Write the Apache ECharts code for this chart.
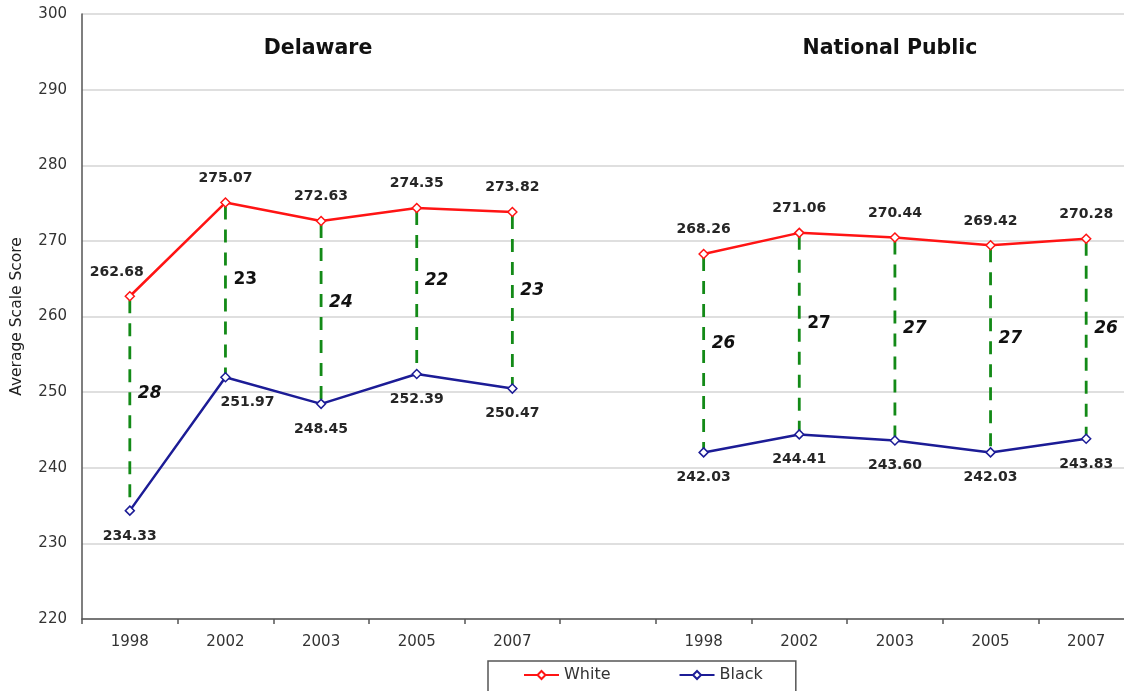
<!DOCTYPE html>
<html>
<head>
<meta charset="utf-8">
<title>Average Scale Score by Race</title>
<script src="https://cdn.jsdelivr.net/npm/echarts@6/dist/echarts.min.js"></script>
<style>
  html, body { margin: 0; padding: 0; background: #fff; }
  #chart { width: 1124px; height: 691px; }
</style>
</head>
<body>
<div id="chart"></div>
<script>
// Years on the axis: Delaware block, an empty spacer slot, then National Public block
const categories = ['1998', '2002', '2003', '2005', '2007', '', '1998', '2002', '2003', '2005', '2007'];

// Average scale scores (null = spacer slot, keeps the two blocks unconnected)
const whiteScores = [262.68, 275.07, 272.63, 274.35, 273.82, null, 268.26, 271.06, 270.44, 269.42, 270.28];
const blackScores = [234.33, 251.97, 248.45, 252.39, 250.47, null, 242.03, 244.41, 243.60, 242.03, 243.83];

// White–Black score gap printed beside each connector
const gapLabels = [28, 23, 24, 22, 23, null, 26, 27, 27, 27, 26];

// Value axis ticks
const yTicks = [220, 230, 240, 250, 260, 270, 280, 290, 300];

// Panel headings
const panelTitles = ['Delaware', 'National Public'];

const FONT = "'DejaVu Sans', sans-serif";
const UPRIGHT_GAP_YEAR = '2002';

const gapData = [];
categories.forEach((c, i) => {
  if (whiteScores[i] != null && blackScores[i] != null) {
    gapData.push([i, whiteScores[i], blackScores[i], gapLabels[i]]);
  }
});

// Nudge labels that would otherwise sit on top of a steep segment
function withLabelNudge(values, nudges) {
  return values.map((v, i) => {
    if (v == null || !nudges[i]) return v;
    return { value: v, label: { offset: nudges[i] } };
  });
}
const whiteData = withLabelNudge(whiteScores, { 0: [-13, 0] });
const blackData = withLabelNudge(blackScores, { 1: [22, 0] });

const chart = echarts.init(document.getElementById('chart'), null, { renderer: 'canvas' });

const option = {
  backgroundColor: '#ffffff',
  animation: false,
  textStyle: { fontFamily: FONT },
  // the plot runs a little past the right edge of the canvas
  grid: { left: 82, top: 14, width: 1052, bottom: 72, containLabel: false, outerBoundsMode: 'none' },
  graphic: [
    {
      type: 'text', x: 318, y: 49,
      style: { text: panelTitles[0], font: "bold 20.5px 'DejaVu Sans', sans-serif", fill: '#111', textAlign: 'center', textVerticalAlign: 'middle' }
    },
    {
      type: 'text', x: 890, y: 49,
      style: { text: panelTitles[1], font: "bold 20.5px 'DejaVu Sans', sans-serif", fill: '#111', textAlign: 'center', textVerticalAlign: 'middle' }
    }
  ],
  legend: {
    left: 488, top: 661,
    data: ['White', 'Black'],
    itemWidth: 35, itemHeight: 10, itemGap: 68,
    padding: [6, 33, 12, 35],
    borderColor: '#555', borderWidth: 1.5,
    backgroundColor: '#fff',
    textStyle: { fontFamily: FONT, fontSize: 16, color: '#333' }
  },
  xAxis: {
    type: 'category',
    data: categories,
    boundaryGap: true,
    axisLine: { lineStyle: { color: '#555', width: 1.5 } },
    axisTick: { show: true, interval: 0, length: 5, lineStyle: { color: '#555', width: 1.5 } },
    axisLabel: { interval: 0, margin: 16, fontFamily: FONT, fontSize: 15, color: '#333' },
    splitLine: { show: false }
  },
  yAxis: {
    type: 'value',
    min: yTicks[0], max: yTicks[yTicks.length - 1], interval: 10,
    name: 'Average Scale Score',
    nameLocation: 'middle', nameRotate: 90, nameGap: 57,
    nameTextStyle: { fontFamily: FONT, fontSize: 15.5, color: '#222' },
    axisLine: { show: true, lineStyle: { color: '#555', width: 1.5 } },
    axisTick: { show: false },
    axisLabel: { margin: 15, fontFamily: FONT, fontSize: 15, color: '#333' },
    splitLine: { lineStyle: { color: '#d4d4d4', width: 1.5 } }
  },
  series: [
    {
      name: 'Gap',
      type: 'custom',
      z: 1,
      silent: true,
      data: gapData,
      encode: { x: 0, y: [1, 2] },
      renderItem: function (params, api) {
        const idx = api.value(0);
        const top = api.coord([idx, api.value(1)]);
        const bot = api.coord([idx, api.value(2)]);
        const midY = (top[1] + bot[1]) / 2 - 10;
        const upright = categories[idx] === UPRIGHT_GAP_YEAR;
        return {
          type: 'group',
          children: [
            {
              type: 'line',
              shape: { x1: top[0], y1: top[1] + 4, x2: bot[0], y2: bot[1] - 4 },
              style: { stroke: '#138a17', lineWidth: 2.8, lineDash: [13, 10] }
            },
            {
              type: 'text',
              x: top[0] + 8, y: midY,
              style: {
                text: String(api.value(3)),
                font: (upright ? '' : 'italic ') + "bold 17px 'DejaVu Sans', sans-serif",
                fill: '#111', textAlign: 'left', textVerticalAlign: 'middle'
              }
            }
          ]
        };
      }
    },
    {
      name: 'White',
      type: 'line',
      z: 3,
      data: whiteData,
      connectNulls: false,
      symbol: 'diamond', symbolSize: 9,
      itemStyle: { color: '#ffffff', borderColor: '#ff1414', borderWidth: 1.5 },
      lineStyle: { color: '#ff1414', width: 2.5 },
      label: {
        show: true, position: 'top', distance: 12,
        fontFamily: FONT, fontSize: 14, fontWeight: 'bold', color: '#262626',
        formatter: p => Number(p.value).toFixed(2)
      }
    },
    {
      name: 'Black',
      type: 'line',
      z: 3,
      data: blackData,
      connectNulls: false,
      symbol: 'diamond', symbolSize: 9,
      itemStyle: { color: '#ffffff', borderColor: '#1c1c96', borderWidth: 1.5 },
      lineStyle: { color: '#1c1c96', width: 2.5 },
      label: {
        show: true, position: 'bottom', distance: 13,
        fontFamily: FONT, fontSize: 14, fontWeight: 'bold', color: '#262626',
        formatter: p => Number(p.value).toFixed(2)
      }
    }
  ]
};

chart.setOption(option);
</script>
</body>
</html>
